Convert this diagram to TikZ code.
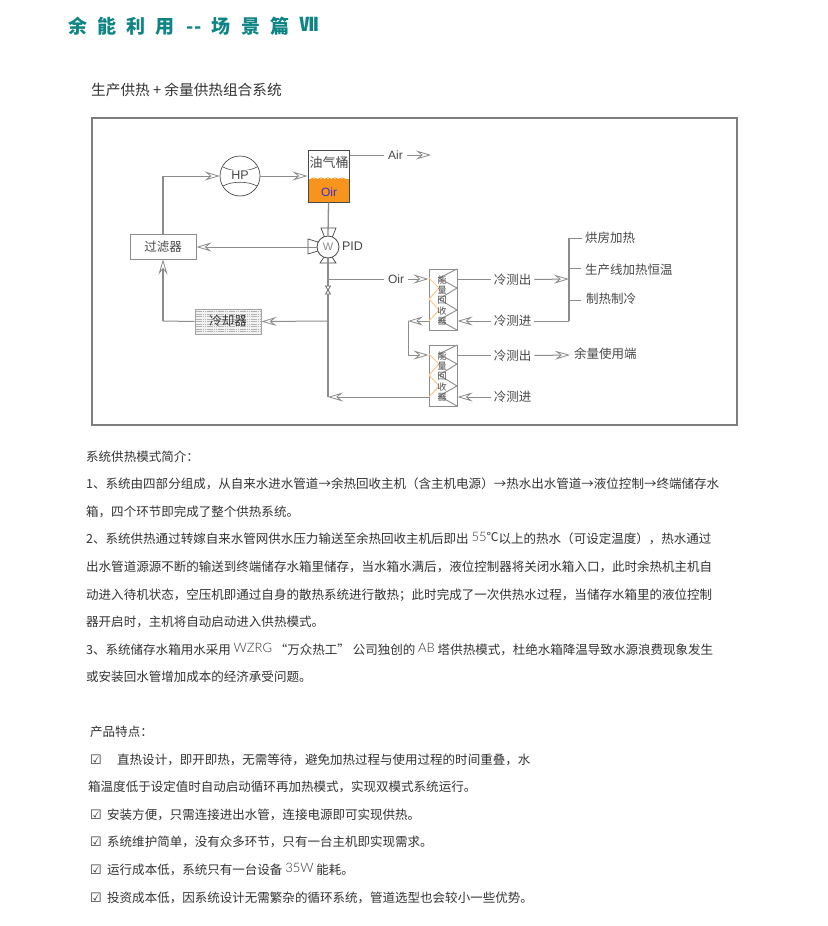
\documentclass[tikz,border=0pt]{standalone}
\usepackage{fontspec}
\setmainfont{Noto Sans CJK SC}
\newfontfamily\latfont{Liberation Sans}
\newfontfamily\thinfont{Lato Light}
\newfontfamily\symfont{DejaVu Sans}
\usetikzlibrary{arrows.meta,calc}
\definecolor{pipe}{HTML}{8C8C8C}
\definecolor{ink}{HTML}{333333}
\definecolor{dink}{HTML}{484848}
\definecolor{teal2}{HTML}{0E8585}
\definecolor{oil}{HTML}{F7941D}
\definecolor{zig}{HTML}{F8C98A}
\definecolor{oirblue}{HTML}{3B2FD0}
\newcommand\thinl[1]{\raisebox{2pt}{\thinfont\fontsize{13}{13}\selectfont #1}}
\newcommand\ck{{\symfont\fontsize{13}{13}\selectfont ☑}}
\tikzset{
  pipeline/.style={draw=pipe,line width=1pt},
  arr/.style={pipeline,-{Stealth[open,length=15pt,width=9pt,inset=5.5pt,line width=.8pt]}},
  txt/.style={anchor=west,inner sep=0pt,text=ink,font=\fontsize{12.52}{14}\selectfont},
  lab/.style={inner sep=0pt,outer sep=3pt,text=dink,font=\fontsize{12.5}{14}\selectfont},
  latlab/.style={inner sep=0pt,outer sep=4pt,text=dink,font=\latfont\fontsize{12}{14}\selectfont},
  boxn/.style={draw=pipe,line width=1pt,fill=white,inner sep=0pt},
  hxbox/.style={draw=pipe,line width=1pt,inner sep=0pt,minimum width=28pt,minimum height=61pt},
  hxt/.style={inner sep=0pt,text=dink,font=\fontsize{9}{9}\selectfont},
  trim/.style={draw=dink,line width=.7pt,fill=white},
}
\newcommand\hxunit[2]{%
  \node[hxbox] (#1) at (443,#2+30.5) {};
  \draw[pipe,line width=.9pt] (457,#2) -- (439,#2+9) -- (457,#2+19) -- (439,#2+30) -- (457,#2+41) -- (439,#2+51) -- (457,#2+61);
  \draw[zig,line width=1pt] (429,#2+9) -- (439,#2+19) -- (429,#2+30) -- (439,#2+41) -- (429,#2+52);
  \node[hxt] (#1a) at (442,#2+11) {能};
  \node[hxt] (#1b) at (442,#2+21) {量};
  \node[hxt] (#1c) at (442,#2+31) {回};
  \node[hxt] (#1d) at (442,#2+42) {收};
  \node[hxt] (#1e) at (442,#2+52) {器};
}
\begin{document}
\begin{tikzpicture}[x=1pt,y=-1pt]
\useasboundingbox (0,0) rectangle (827,926);
\fill[white] (0,0) rectangle (827,926);
% title
\node[anchor=west,inner sep=0pt,text=teal2,font=\bfseries\fontsize{19}{20}\selectfont] (title) at (68,26)
  {余\hspace{10.2pt}能\hspace{10.2pt}利\hspace{10.2pt}用\hspace{12pt}{-}{-}\hspace{10.5pt}场\hspace{10.2pt}景\hspace{10.2pt}篇\hspace{10pt}\raisebox{2pt}{Ⅶ}};
\node[txt,font=\fontsize{14.65}{16}\selectfont] (sub) at (91,90) {生产供热 + 余量供热组合系统};
% frame
\node[draw=pipe!90!black,line width=2pt,inner sep=0pt,minimum width=645pt,minimum height=307pt] (frame) at (414.5,271.5) {};
% tank
\fill[oil] (308,179) rectangle (349,202);
\foreach \xx in {314,321,328,335,342}
  \draw[oil,line width=.8pt] (\xx-3,179) .. controls (\xx-1,177.5) and (\xx+1,177.5) .. (\xx+3,179);
\node[draw=dink,line width=1pt,inner sep=0pt,minimum width=41pt,minimum height=52pt] (tank) at (328.5,176) {};
\node[lab,font=\fontsize{13}{14}\selectfont] (tanktxt) at (329,163) {油气桶};
\node[latlab,text=oirblue] (oirt) at (329,192) {Oir};
% HP
\node[circle,draw=dink,line width=.7pt,minimum size=40pt,inner sep=0pt] (hp) at (240,176) {};
\draw[dink,line width=.6pt] (223,167) .. controls (232,172) and (248,172) .. (257,167);
\draw[dink,line width=.6pt] (223,186) .. controls (232,181) and (248,181) .. (257,186);
\node[latlab,font=\latfont\fontsize{12.5}{14}\selectfont,fill=white,inner sep=1pt,outer sep=0pt] (hptxt) at (240,175.5) {HP};
% filter
\node[boxn,minimum width=66pt,minimum height=25pt,text=dink,font=\fontsize{12.5}{14}\selectfont] (filter) at (163,246.5) {过滤器};
% valve
\draw[trim] (321,228) -- (336,228) -- (332,238) -- (325,238) -- cycle;
\draw[trim] (320,263) -- (336,263) -- (332,257) -- (324,257) -- cycle;
\draw[trim] (308,239) -- (308,254) -- (318,251) -- (318,242) -- cycle;
\node[circle,draw=dink,line width=.8pt,fill=white,minimum size=22pt,inner sep=0pt,text=pipe,font=\latfont\fontsize{11}{12}\selectfont] (valve) at (328,247) {W};
\node[latlab,font=\latfont\fontsize{12.5}{14}\selectfont] (pid) at (352.5,246) {PID};
% labels
\node[latlab] (air) at (395.5,155) {Air};
\node[latlab] (oir) at (396,279) {Oir};
\coordinate (airend) at (431,155);
\coordinate (jo) at (328,279);
\coordinate (jc) at (328,321);
\coordinate (jb) at (328,397);
\coordinate (cf) at (163,321);
\coordinate (hpc) at (163,176);
% heat recovery units
\hxunit{hxa}{269}
\hxunit{hxb}{345}
% cooler
\node[boxn,draw=pipe!80,fill=black!5,minimum width=66pt,minimum height=25pt] (cool) at (228,321.5) {};
\foreach \yy in {311.5,314,...,332.5}
  \draw[black!30,line width=.35pt,dash pattern=on 1.5pt off .7pt] (196,\yy) -- (260,\yy);
\node[lab,text=black!80] (cooltxt) at (228,321) {冷却器};
% right labels
\node[lab] (outa) at (512.5,279.5) {冷测出};
\node[lab] (ina) at (512.5,321) {冷测进};
\node[lab] (outb) at (512.5,355.5) {冷测出};
\node[lab] (inb) at (512.5,397) {冷测进};
\node[lab,anchor=west,outer sep=0pt] (use1) at (585,238) {烘房加热};
\node[lab,anchor=west,outer sep=0pt] (use2) at (585,270) {生产线加热恒温};
\node[lab,anchor=west,outer sep=0pt] (use3) at (586,299) {制热制冷};
\node[lab,anchor=west,outer sep=0pt] (rest) at (574,354) {余量使用端};
\coordinate (bus) at (569,279);
\coordinate (bust) at (569,238);
\coordinate (busm) at (569,268);
\coordinate (busl) at (569,300);
\coordinate (busb) at (569,321);
\coordinate (restp) at (570,355);
\coordinate (link) at (408,321);
\coordinate (linkb) at (408,355);
% connectors
\draw[pipeline] (tank.east |- air) -- (air.west);
\draw[arr] (air.east) -- (airend);
\draw[arr] (filter.north |- hp) -- (hp.west);
\draw[pipeline,line width=1.2pt] (filter.north) -- (hpc);
\draw[arr] (hp.east) -- (tank.west |- hp);
\draw[pipeline,line width=1.3pt] (tank.south) -- (valve.north);
\draw[arr] (valve.west) -- (filter.east |- valve);
\draw[pipeline,line width=1.3pt] (valve.south) -- (jb);
\draw[pipeline] (jo) -- (oir.west);
\draw[arr] (oir.east) -- (hxa.west |- oir);
\draw[pipe!80!black,line width=.8pt,fill=white] (325.5,286) -- (330.5,286) -- (325.5,294) -- (330.5,294) -- cycle;
\draw[arr] (jc) -- (cool.east);
\draw[pipeline] (cool.west) -- (cf);
\draw[arr,line width=1.2pt] (cf) -- (filter.south);
\draw[pipeline] (hxa.east |- outa) -- (outa.west);
\draw[arr] (outa.east) -- (bus);
\draw[pipeline,line width=1.2pt] (bust) -- (busb);
\draw[pipeline] (bust) -- ($(use1.west)+(-3,0)$);
\draw[pipeline] (busm) -- ($(busm)+(12,0)$);
\draw[pipeline] (busl) -- ($(busl)+(12,0)$);
\draw[pipeline] (ina.east) -- (busb);
\draw[arr] (ina.west) -- (hxa.east |- ina);
\draw[arr] (hxa.west |- ina) -- (link);
\draw[pipeline] (link) -- (linkb);
\draw[arr] (linkb) -- (hxb.west |- linkb);
\draw[pipeline] (hxb.east |- outb) -- (outb.west);
\draw[arr] (outb.east) -- (restp);
\draw[arr] (inb.west) -- (hxb.east |- inb);
\draw[arr] (hxb.west |- inb) -- (jb);
% body text
\node[txt] (t1) at (86,457) {系统供热模式简介：};
\node[txt] (t2) at (86,484) {1、系统由四部分组成，从自来水进水管道→余热回收主机（含主机电源）→热水出水管道→液位控制→终端储存水};
\node[txt] (t3) at (86,512) {箱，四个环节即完成了整个供热系统。};
\node[txt] (t4) at (86,539) {2、系统供热通过转嫁自来水管网供水压力输送至余热回收主机后即出 \thinl{55}\raisebox{2pt}{\fontsize{12}{12}\selectfont ℃}以上的热水（可设定温度），热水通过};
\node[txt] (t5) at (86,567) {出水管道源源不断的输送到终端储存水箱里储存，当水箱水满后，液位控制器将关闭水箱入口，此时余热机主机自};
\node[txt] (t6) at (86,595) {动进入待机状态，空压机即通过自身的散热系统进行散热；此时完成了一次供热水过程，当储存水箱里的液位控制};
\node[txt] (t7) at (86,622) {器开启时，主机将自动启动进入供热模式。};
\node[txt] (t8) at (86,650) {3、系统储存水箱用水采用 \thinl{WZRG} “万众热工” 公司独创的 \thinl{AB} 塔供热模式，杜绝水箱降温导致水源浪费现象发生};
\node[txt] (t9) at (86,677) {或安装回水管增加成本的经济承受问题。};
\node[txt] (t10) at (90,732) {产品特点：};
\node[txt] (c1) at (90,760) {\ck};
\node[txt] (t11) at (117,760) {直热设计，即开即热，无需等待，避免加热过程与使用过程的时间重叠，水};
\node[txt] (t12) at (88,787) {箱温度低于设定值时自动启动循环再加热模式，实现双模式系统运行。};
\node[txt] (c2) at (90,815) {\ck};
\node[txt] (t13) at (107,815) {安装方便，只需连接进出水管，连接电源即可实现供热。};
\node[txt] (c3) at (90,842) {\ck};
\node[txt] (t14) at (107,842) {系统维护简单，没有众多环节，只有一台主机即实现需求。};
\node[txt] (c4) at (90,870) {\ck};
\node[txt] (t15) at (107,870) {运行成本低，系统只有一台设备 \thinl{35W} 能耗。};
\node[txt] (c5) at (90,898) {\ck};
\node[txt] (t16) at (107,898) {投资成本低，因系统设计无需繁杂的循环系统，管道选型也会较小一些优势。};
\end{tikzpicture}
\end{document}
